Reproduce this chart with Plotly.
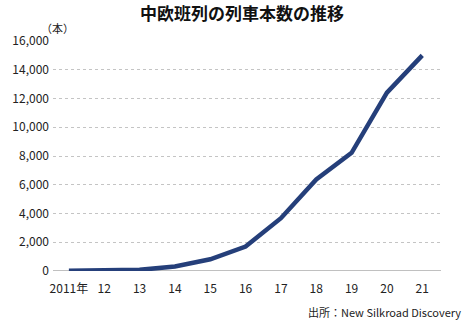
import plotly.graph_objects as go

years = [2011, 2012, 2013, 2014, 2015, 2016, 2017, 2018, 2019, 2020, 2021]
tick_labels = ["2011年", "12", "13", "14", "15", "16", "17", "18", "19", "20", "21"]
trains = [17, 42, 80, 308, 815, 1702, 3673, 6363, 8225, 12406, 15000]
y_ticks = [0, 2000, 4000, 6000, 8000, 10000, 12000, 14000, 16000]
y_tick_labels = ["0", "2,000", "4,000", "6,000", "8,000", "10,000", "12,000", "14,000", "16,000"]

FONT = "Noto Sans CJK JP"

fig = go.Figure()
fig.add_trace(go.Scatter(
    x=years, y=trains, mode="lines",
    line=dict(color="#253f7a", width=4.5),
    hoverinfo="skip",
))

fig.update_layout(
    width=465, height=325,
    margin=dict(l=47, r=24, t=41, b=54),
    paper_bgcolor="white", plot_bgcolor="white",
    showlegend=False,
    font=dict(family=FONT, size=12, color="#222222"),
    xaxis=dict(
        range=[2010.55, 2021.53],
        tickvals=years, ticktext=tick_labels,
        showgrid=False, zeroline=False, showline=False,
        ticks="", ticklabelstandoff=9,
        tickfont=dict(size=12, color="#222222"),
        fixedrange=True,
    ),
    yaxis=dict(
        range=[0, 16000],
        tickvals=y_ticks, ticktext=y_tick_labels,
        showgrid=True, gridcolor="#c4c4c4", griddash="dot", gridwidth=1,
        zeroline=False, showline=False,
        ticks="", ticklabelstandoff=3,
        tickfont=dict(size=12, color="#222222"),
        fixedrange=True,
    ),
    annotations=[
        dict(text="<b>中欧班列の列車本数の推移</b>", xref="paper", yref="paper",
             x=0.5, y=1, xshift=-5, yshift=29, xanchor="center", yanchor="middle",
             showarrow=False, font=dict(family=FONT, size=17, color="#111111")),
        dict(text="（本）", xref="paper", yref="paper",
             x=0, y=1, xshift=-14, yshift=13, xanchor="left", yanchor="middle",
             showarrow=False, font=dict(family=FONT, size=11, color="#222222")),
        dict(text="出所：New Silkroad Discovery", xref="paper", yref="paper",
             x=1, y=0, xshift=22, yshift=-41, xanchor="right", yanchor="middle",
             showarrow=False, font=dict(family=FONT, size=11, color="#222222")),
    ],
    shapes=[
        dict(type="line", xref="paper", yref="y", x0=0, x1=1, y0=0, y1=0,
             line=dict(color="#808080", width=1), layer="below"),
    ],
)

fig.write_html("out.html")
